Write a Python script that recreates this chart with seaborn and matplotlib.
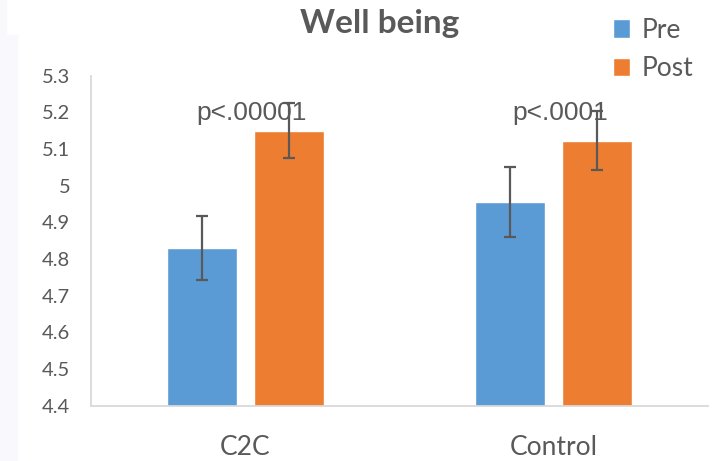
import seaborn as sns
import numpy as np
import pandas as pd
import matplotlib
matplotlib.use("Agg")
import matplotlib.pyplot as plt
from matplotlib.patches import Rectangle

# Values
groups = ["C2C", "Control"]
pre_means = [4.83, 4.955]
post_means = [5.15, 5.123]
pre_err = [0.087, 0.095]
post_err = [0.074, 0.08]
p_labels = ["p<.00001", "p<.0001"]
ytick_vals = [4.4, 4.5, 4.6, 4.7, 4.8, 4.9, 5.0, 5.1, 5.2, 5.3]
ytick_labels = ["4.4", "4.5", "4.6", "4.7", "4.8", "4.9", "5", "5.1", "5.2", "5.3"]

df = pd.DataFrame({
    "Group": groups * 2,
    "Time": ["Pre"] * len(groups) + ["Post"] * len(groups),
    "Score": pre_means + post_means,
    "Err": pre_err + post_err,
})

sns.set_style("white")
plt.rcParams["font.family"] = ["Lato", "DejaVu Sans"]
grey = "#595959"

fig = plt.figure(figsize=(7.28, 4.61), dpi=100)
ax = fig.add_axes([0.125, 0.12, 0.8475, 0.716])

# slide border strip on the left
fig.patches.append(Rectangle((0, 0), 6 / 728, 1, transform=fig.transFigure,
                             color="#f8f8fd", zorder=0))
fig.patches.append(Rectangle((6 / 728, 0), 11 / 728, 426 / 461, transform=fig.transFigure,
                             color="#f8f8fd", zorder=0))

sns.barplot(data=df, x="Group", y="Score", hue="Time", order=groups,
            hue_order=["Pre", "Post"], palette=["#5B9BD5", "#ED7D31"],
            width=0.565, gap=0.2, errorbar=None, saturation=1, ax=ax)

# error bars at bar centres
errs = [pre_err, post_err]
for cont, e in zip(ax.containers, errs):
    xs = [b.get_x() + b.get_width() / 2 for b in cont]
    ys = [b.get_height() for b in cont]
    ax.errorbar(xs, ys, yerr=e, fmt="none", ecolor=grey, elinewidth=1.6,
                capsize=4.3, capthick=1.6, zorder=5)

# p-value annotations
for i, txt in enumerate(p_labels):
    ax.text(i + 0.02, 5.178, txt, ha="center", va="baseline", fontsize=19,
            color=grey, family=["Liberation Sans", "DejaVu Sans"], zorder=4)

ax.set_xlim(-0.5, 1.5)
ax.set_ylim(4.4, 5.3)
ax.set_yticks(ytick_vals)
ax.set_yticklabels(ytick_labels)
ax.set_xlabel("")
ax.set_ylabel("")
ax.tick_params(axis="y", length=0, pad=15, labelsize=14.5, labelcolor=grey)
ax.tick_params(axis="x", length=0, pad=21, labelsize=19, labelcolor=grey)
for s in ["top", "right"]:
    ax.spines[s].set_visible(False)
for s in ["left", "bottom"]:
    ax.spines[s].set_color("#d9d9d9")
    ax.spines[s].set_linewidth(1.3)

handles, labels = ax.get_legend_handles_labels()
if ax.get_legend() is not None:
    ax.get_legend().remove()
fig.legend(handles, labels, loc="upper left", bbox_to_anchor=(589 / 728, 1 + 6 / 461),
           frameon=False, fontsize=19, handlelength=0.65, handleheight=0.7,
           handletextpad=0.45, labelspacing=0.52, labelcolor=grey)

fig.text(380 / 728, 1 - 23 / 461, "Well being", ha="center", va="center",
         fontsize=24, fontweight="bold", color=grey)

fig.savefig("out.png", dpi=100)
